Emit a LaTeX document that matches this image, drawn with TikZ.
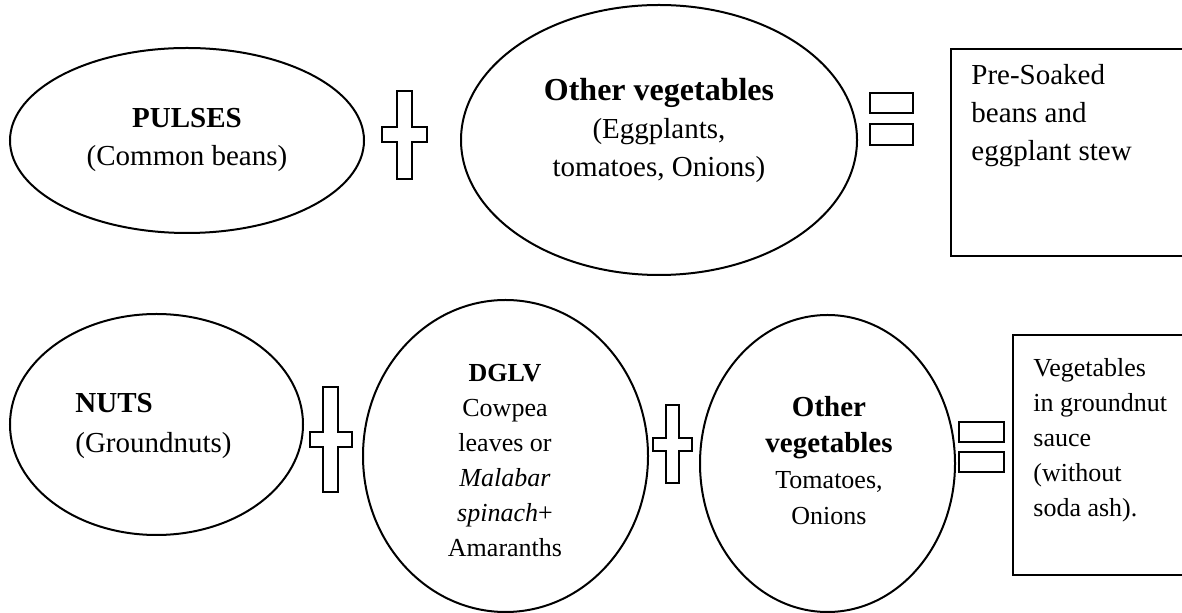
\documentclass[tikz,border=0pt]{standalone}
\usepackage{fontspec}
\setmainfont{Liberation Serif}
\usetikzlibrary{shapes.geometric}
\newcommand{\crossat}[8]{%
  \draw[symb] (#1,#3) -- (#2,#3) -- (#2,#7) -- (#6,#7) -- (#6,#8) -- (#2,#8) -- (#2,#4)
    -- (#1,#4) -- (#1,#8) -- (#5,#8) -- (#5,#7) -- (#1,#7) -- cycle;}
\begin{document}
\begin{tikzpicture}[x=0.5pt,y=-0.5pt,
  oval/.style={draw, ellipse, line width=1pt, inner sep=0pt, outer sep=0pt},
  dish/.style={draw, rectangle, line width=1.2pt, inner sep=0pt, anchor=north west},
  symb/.style={draw, line width=1pt},
  bigtxt/.style={inner sep=0pt, anchor=base, font=\fontsize{14.5}{19}\selectfont},
  smalltxt/.style={inner sep=0pt, anchor=base, font=\fontsize{13}{17.5}\selectfont}]
\useasboundingbox (0,0) rectangle (1182,613);
\clip (0,0) rectangle (1182,613);
% top row
\node[oval, minimum width=177pt, minimum height=92.5pt] (pulses) at (187,140.5) {};
\node[bigtxt] (pulsesT) at (187,128) {\begin{tabular}[t]{@{}c@{}}\textbf{PULSES}\\(Common beans)\end{tabular}};
\crossat{397}{412}{91}{179}{382}{427}{127}{142}
\node[oval, minimum width=198pt, minimum height=135pt] (veg1) at (659,140) {};
\node[bigtxt] (veg1T) at (659,101) {\begin{tabular}[t]{@{}c@{}}{\fontsize{16}{19}\selectfont\textbf{Other vegetables}}\\(Eggplants,\\tomatoes, Onions)\end{tabular}};
\draw[symb] (870,93) rectangle (913,113);
\draw[symb] (870,124) rectangle (913,145);
\node[dish, minimum width=130pt, minimum height=103.5pt] (dish1) at (950,48) {};
\node[bigtxt, anchor=base west] (dish1T) at (971,85) {\begin{tabular}[t]{@{}l@{}}Pre-Soaked\\beans and\\eggplant stew\end{tabular}};
% bottom row
\node[oval, minimum width=146.5pt, minimum height=110.5pt] (nuts) at (156.5,424.5) {};
\node[bigtxt, anchor=base west, font=\fontsize{14.5}{20}\selectfont] (nutsT) at (75,413) {\begin{tabular}[t]{@{}l@{}}\textbf{NUTS}\\(Groundnuts)\end{tabular}};
\crossat{323}{338}{387}{492}{310}{352}{432}{447}
\node[oval, minimum width=142.5pt, minimum height=156pt] (dglv) at (505.5,456) {};
\node[smalltxt] (dglvT) at (505,382) {\begin{tabular}[t]{@{}c@{}}\textbf{DGLV}\\Cowpea\\leaves or\\\textit{Malabar}\\\textit{spinach}+\\Amaranths\end{tabular}};
\crossat{666}{679}{405}{483}{653}{692}{438}{451}
\node[oval, minimum width=127.5pt, minimum height=148.5pt] (veg2) at (827.5,463.5) {};
\node[smalltxt, font=\fontsize{13}{18}\selectfont] (veg2T) at (829,417) {\begin{tabular}[t]{@{}c@{}}{\fontsize{14.5}{18}\selectfont\textbf{Other}}\\{\fontsize{14.5}{18}\selectfont\textbf{vegetables}}\\Tomatoes,\\Onions\end{tabular}};
\draw[symb] (959,422) rectangle (1004,442);
\draw[symb] (959,452) rectangle (1004,472);
\node[dish, minimum width=100pt, minimum height=120pt] (dish2) at (1012,334) {};
\node[smalltxt, anchor=base west] (dish2T) at (1033,377) {\begin{tabular}[t]{@{}l@{}}Vegetables\\in groundnut\\sauce\\(without\\soda ash).\end{tabular}};
\end{tikzpicture}
\end{document}
